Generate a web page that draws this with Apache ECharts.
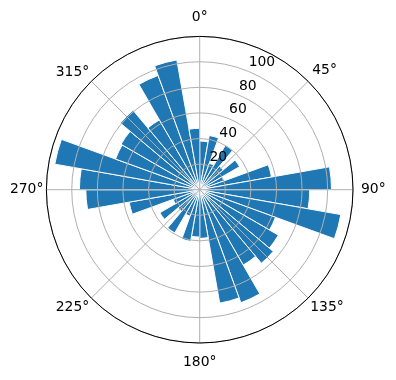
<!DOCTYPE html>
<html>
<head>
<meta charset="utf-8">
<script src="https://cdn.jsdelivr.net/npm/echarts@6/dist/echarts.min.js"></script>
<style>
html,body{margin:0;padding:0;background:#fff;}
#chart{width:396px;height:380px;}
</style>
</head>
<body>
<div id="chart"></div>
<script>
// Bar sectors: each covers 10 degrees, listed clockwise from 0° (north)
const sectors = ['0-10','10-20','20-30','30-40','40-50','50-60','60-70','70-80','80-90',
  '90-100','100-110','110-120','120-130','130-140','140-150','150-160','160-170','170-180',
  '180-190','190-200','200-210','210-220','220-230','230-240','240-250','250-260','260-270',
  '270-280','280-290','290-300','300-310','310-320','320-330','330-340','340-350','350-360'];
const values = [38, 43, 22, 40, 24, 36, 20, 57, 103,
  86, 112, 63, 71, 75, 68, 94, 90, 38,
  37, 41, 22, 39, 22, 36, 22, 56, 89,
  94, 115, 70, 71, 81, 63, 95, 103, 48];
const angleTicks = [0, 45, 90, 135, 180, 225, 270, 315];
const radiusTicks = [20, 40, 60, 80, 100];
const rMax = 119.8;

const FONT = 'DejaVu Sans';
const FS = 13.9;
const CENTER = [199.7, 189.7];
const RADIUS = 153.3;

const chart = echarts.init(document.getElementById('chart'), null, {renderer: 'canvas'});
const richBase = {fontFamily: FONT, fontSize: FS, color: '#000'};
const option = {
  animation: false,
  backgroundColor: '#fff',
  polar: [
    {center: CENTER, radius: RADIUS},
    {center: CENTER, radius: RADIUS},
    {center: CENTER, radius: RADIUS}
  ],
  angleAxis: [
    {
      polarIndex: 0, type: 'value', min: 0, max: 360, interval: 45,
      startAngle: 90, clockwise: true, z: 10,
      axisLine: {show: true, lineStyle: {color: '#000', width: 1}},
      axisTick: {show: false},
      splitLine: {show: true, lineStyle: {color: '#b0b0b0', width: 1}},
      axisLabel: {
        show: true, margin: 3, fontFamily: FONT, fontSize: FS, color: '#000',
        formatter: function (v) {
          if (angleTicks.indexOf(v) < 0) return '';
          const key = {0: 't', 180: 'b', 90: 'r', 45: 'd'}[v];
          return key ? '{' + key + '|' + v + '°}' : v + '°';
        },
        rich: {
          t: Object.assign({padding: [0, 0, 9, 0]}, richBase),
          b: Object.assign({padding: [9, 0, 0, 0]}, richBase),
          r: Object.assign({padding: [0, 0, 0, 5]}, richBase),
          d: Object.assign({padding: [0, 0, 2, 2]}, richBase)
        }
      }
    },
    {
      polarIndex: 1, type: 'category', data: sectors, startAngle: 90, clockwise: true,
      boundaryGap: true,
      axisLine: {show: false}, axisTick: {show: false}, axisLabel: {show: false}, splitLine: {show: false}
    },
    {
      polarIndex: 2, type: 'value', min: 0, max: 360, startAngle: 67.5, clockwise: true,
      axisLine: {show: false}, axisTick: {show: false}, axisLabel: {show: false}, splitLine: {show: false}
    }
  ],
  radiusAxis: [
    {
      polarIndex: 0, type: 'value', min: 0, max: rMax, interval: 20, z: 10,
      axisLine: {show: false}, axisTick: {show: false}, axisLabel: {show: false},
      splitLine: {show: true, lineStyle: {color: '#b0b0b0', width: 1}}
    },
    {
      polarIndex: 1, type: 'value', min: 0, max: rMax,
      axisLine: {show: false}, axisTick: {show: false}, axisLabel: {show: false}, splitLine: {show: false}
    },
    {
      polarIndex: 2, type: 'value', min: 0, max: rMax, interval: 20, z: 11,
      axisLine: {show: false}, axisTick: {show: false}, splitLine: {show: false},
      axisLabel: {
        show: true, margin: 0, align: 'left', verticalAlign: 'bottom',
        padding: [0, 0, 2, 0],
        fontFamily: FONT, fontSize: FS, color: '#000',
        formatter: function (v) { return radiusTicks.indexOf(v) >= 0 ? String(v) : ''; }
      }
    }
  ],
  series: [{
    type: 'bar',
    coordinateSystem: 'polar',
    polarIndex: 1,
    data: values,
    barCategoryGap: '0%',
    itemStyle: {color: '#1f77b4', borderColor: '#ffffff', borderWidth: 1},
    z: 2
  }]
};
chart.setOption(option);
</script>
</body>
</html>
